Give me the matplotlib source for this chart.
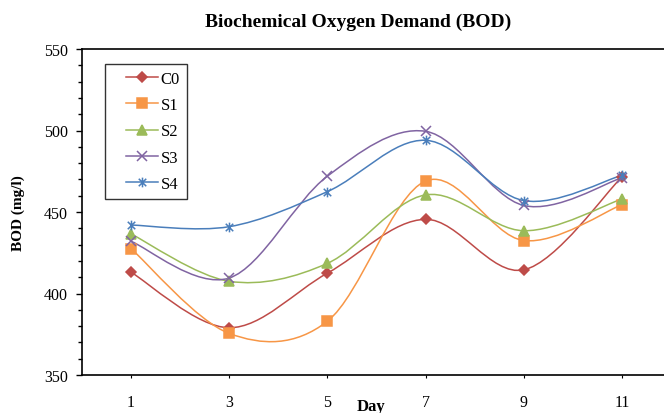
import numpy as np
import matplotlib
matplotlib.use("Agg")
import matplotlib.pyplot as plt
from matplotlib.path import Path
from matplotlib.patches import PathPatch
from matplotlib.lines import Line2D
from matplotlib.legend_handler import HandlerLine2D
from matplotlib.ticker import MultipleLocator

plt.rcParams['font.family'] = ['Liberation Serif', 'DejaVu Serif']

days = [1, 3, 5, 7, 9, 11]
c0 = [413, 379, 412.5, 445.5, 414.5, 471.5]
s1 = [427.5, 375.5, 383, 469, 432.5, 454.5]
s2 = [436.5, 407.5, 418.5, 460.5, 438.5, 458]
s3 = [432, 409.5, 472, 499.5, 454, 471]
s4 = [442, 441, 462.5, 494, 457, 472.5]

names = ['C0', 'S1', 'S2', 'S3', 'S4']
series = [c0, s1, s2, s3, s4]
colors = ['#BE4B48', '#F79646', '#9BBB59', '#8064A2', '#4A7EBB']

# excel style star: x with a vertical bar
star = Path([(-1, -1), (1, 1), (-1, 1), (1, -1), (0, -1.3), (0, 1.3)],
            [Path.MOVETO, Path.LINETO, Path.MOVETO, Path.LINETO, Path.MOVETO, Path.LINETO])
markers = ['D', 's', '^', 'x', star]
msizes = [5.5, 6.5, 7, 6.5, 7]


def smooth_path(x, y):
    # excel-like smoothed line: bezier segments with catmull-rom control points
    x = np.asarray(x, float)
    y = np.asarray(y, float)
    px = np.concatenate([[x[0]], x, [x[-1]]])
    py = np.concatenate([[y[0]], y, [y[-1]]])
    verts = [(x[0], y[0])]
    codes = [Path.MOVETO]
    for i in range(1, len(x)):
        c1 = (px[i] + (px[i + 1] - px[i - 1]) / 6, py[i] + (py[i + 1] - py[i - 1]) / 6)
        c2 = (px[i + 1] - (px[i + 2] - px[i]) / 6, py[i + 1] - (py[i + 2] - py[i]) / 6)
        verts += [c1, c2, (px[i + 1], py[i + 1])]
        codes += [Path.CURVE4] * 3
    return Path(verts, codes)


class ShiftedLine(HandlerLine2D):
    def create_artists(self, legend, orig_handle, xdescent, ydescent, width, height, fontsize, trans):
        shift = 0.3 * width
        return super().create_artists(legend, orig_handle, xdescent - shift, ydescent,
                                      width - shift, height, fontsize, trans)


fig = plt.figure(figsize=(6.64, 4.14), dpi=100)
ax = fig.add_axes([82 / 664, 38 / 414, 589 / 664, 326 / 414])

handles = []
for name, vals, col, mk, ms in zip(names, series, colors, markers, msizes):
    ax.add_patch(PathPatch(smooth_path(days, vals), fill=False, edgecolor=col, lw=1.1, zorder=2))
    ax.plot(days, vals, ls='none', marker=mk, ms=ms, color=col, mec=col, mew=1.1, zorder=3)
    handles.append(Line2D([], [], color=col, lw=1.1, marker=mk, ms=ms, mec=col, mew=1.1))

ax.set_xlim(0, 12)
ax.set_ylim(350, 550)
ax.set_xticks(days)
ax.set_xticklabels([str(d) for d in days])
ax.yaxis.set_major_locator(MultipleLocator(50))
ax.yaxis.set_minor_locator(MultipleLocator(10))
ax.tick_params(axis='x', direction='out', length=2.5, width=0.8, pad=11, labelsize=11.5)
ax.tick_params(axis='y', which='major', direction='out', length=4, width=1, pad=6, labelsize=11.5)
ax.tick_params(axis='y', which='minor', direction='out', length=3, width=1)
for sp in ax.spines.values():
    sp.set_linewidth(1.2)
    sp.set_color('black')
ax.spines['right'].set_visible(False)

leg = ax.legend(handles, names, loc='upper left', bbox_to_anchor=(105 / 664, 1 - 65 / 414),
                bbox_transform=fig.transFigure, borderaxespad=0, fontsize=12, frameon=True,
                fancybox=False, edgecolor='black', handlelength=2.8, handletextpad=0.15,
                labelspacing=0.62, borderpad=0.4, numpoints=1,
                handler_map={Line2D: ShiftedLine()})
leg.get_frame().set_linewidth(1.0)

fig.text(358 / 664, 1 - 22 / 414, 'Biochemical Oxygen Demand (BOD)', ha='center', va='center',
         fontsize=14, fontweight='bold')
fig.text(18 / 664, 1 - 213 / 414, 'BOD (mg/l)', rotation=90, ha='center', va='center',
         fontsize=11, fontweight='bold')
fig.text(371 / 664, 3 / 414, 'Day', ha='center', va='baseline', fontsize=12, fontweight='bold')

fig.savefig('out.png', dpi=100)
